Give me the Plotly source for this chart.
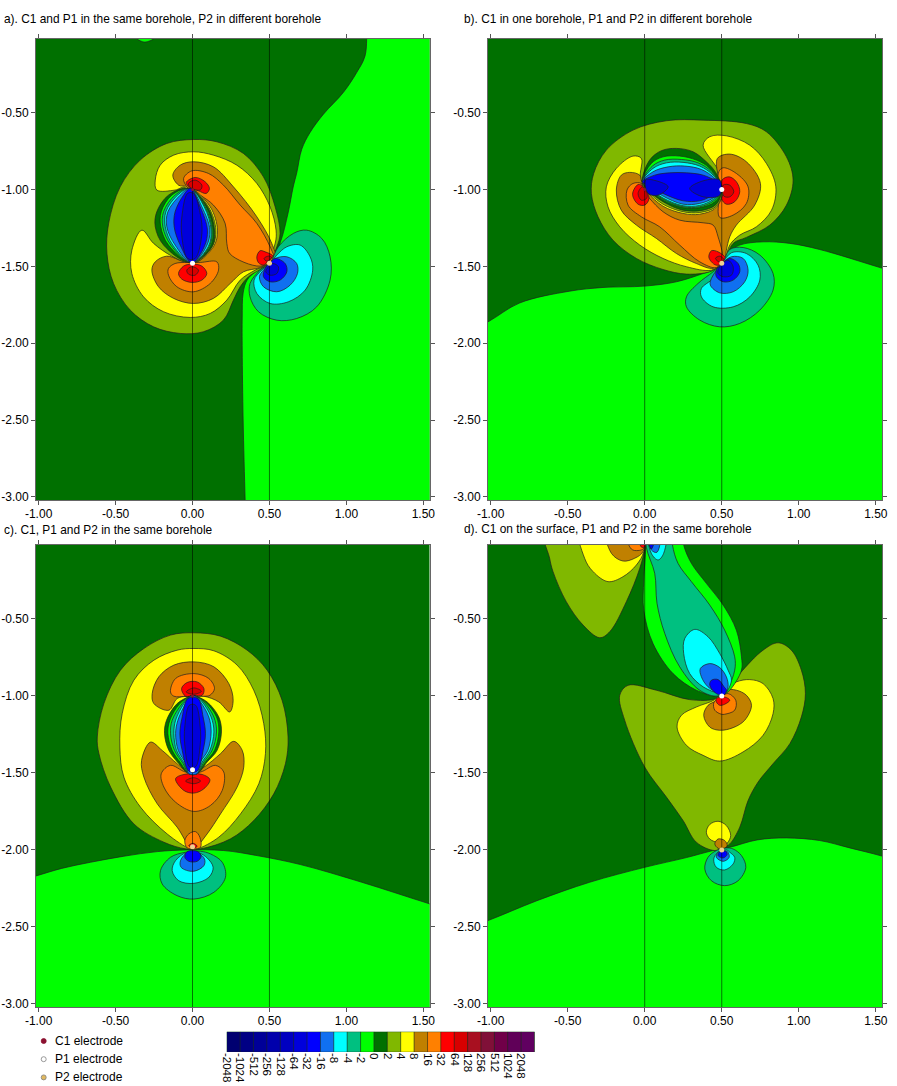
import plotly.graph_objects as go

# colour scale, each colour is the band that starts at the label below it
LEVELS = ['-2048', '-1024', '-512', '-256', '-128', '-64', '-32', '-16', '-8', '-4', '-2', '0',
          '2', '4', '8', '16', '32', '64', '128', '256', '512', '1024', '2048']
COLORS = ['#000070', '#000084', '#000098', '#0000ac', '#0000c0', '#0000dc', '#0000ff', '#1070f0',
          '#00ffff', '#00c080', '#00ff00', '#007000', '#80b800', '#ffff00', '#c08000', '#ff8000',
          '#ff0000', '#d80000', '#a81020', '#801038', '#700048', '#600058', '#600060']
BAND = dict(zip(LEVELS, COLORS))

XTICKS = [-1.0, -0.5, 0.0, 0.5, 1.0, 1.5]
XTICK_TEXT = ['-1.00', '-0.50', '0.00', '0.50', '1.00', '1.50']
YTICKS = [-0.5, -1.0, -1.5, -2.0, -2.5, -3.0]
YTICK_TEXT = ['-0.50', '-1.00', '-1.50', '-2.00', '-2.50', '-3.00']
BOREHOLES = [0.0, 0.5]
TITLES = ['a). C1 and P1 in the same borehole, P2 in different borehole',
          'b). C1 in one borehole, P1 and P2 in different borehole',
          'c). C1, P1 and P2 in the same borehole',
          'd). C1 on the surface, P1 and P2 in the same borehole']

# electrodes per panel
C1_X = [0.0, 0.0, 0.0, 0.0]
C1_Y = [-1.0, -1.0, -1.0, 0.006]
P1_X = [0.0, 0.5, 0.0, 0.5]
P1_Y = [-1.48, -1.0, -1.48, -1.0]
P2_X = [0.5, 0.5, 0.0, 0.5]
P2_Y = [-1.48, -1.48, -1.98, -2.0]

# contour outlines, panel a
A_GREEN_X = [1.14, 1.121, 1.067, .98, .851, .764, .71, .678, .654, .621, .569, .518, .42, .355, .329, .323, .323, .329, .342, .35, 1.9, 1.9, 1.2]
A_GREEN_Y = [0.1, -.13, -.238, -.368, -.509, -.628, -.737, -.888, -.984, -1.153, -1.348, -1.446, -1.524, -1.589, -1.673, -1.83, -2.044, -2.5, -3.02, -3.3, -3.4, 0.3, 0.3]
A_BLOB_X = [-.359, -.31, -.255]
A_BLOB_Y = [-.02, -.04, -.02]
A_OLIVE_X = [.5, .548, .569, .537, .461, .331, .158, .006, -.167, -.34, -.47, -.545, -.556, -.513, -.405, -.253, -.08, .071, .201, .266, .31, .364, .439]
A_OLIVE_Y = [-1.476, -1.372, -1.285, -1.112, -.917, -.765, -.689, -.674, -.7, -.808, -.982, -1.22, -1.416, -1.611, -1.784, -1.893, -1.936, -1.925, -1.849, -1.719, -1.632, -1.567, -1.52]
A_YELLOW_X = [.537, .543, .504, .418, .288, .136, .006, -.123, -.21, -.242, -.232, -.113, -.048, -.015, -.032, -.134, -.253, -.329, -.394, -.394, -.318, -.188, -.015, .115, .223, .31, .407, .472]
A_YELLOW_Y = [-1.35, -1.264, -1.112, -.96, -.841, -.776, -.754, -.776, -.841, -.938, -1.003, -1.003, -.986, -1.22, -1.47, -1.433, -1.35, -1.264, -1.394, -1.546, -1.698, -1.795, -1.832, -1.806, -1.719, -1.589, -1.524, -1.491]
A_BROWN_X = [.537, .515, .418, .266, .136, .006, -.08, -.128, -.091, -.032, -.015, -.019, -.167, -.242, -.264, -.221, -.123, .006, .136, .245, .331, .439]
A_BROWN_Y = [-1.448, -1.35, -1.177, -.982, -.852, -.819, -.841, -.906, -.971, -.986, -1.22, -1.47, -1.433, -1.47, -1.524, -1.632, -1.708, -1.741, -1.708, -1.611, -1.535, -1.507]
A_ORANGE1_X = [-.032, -.058, -.004, .104, .201, .31, .418, .504, .526, .439, .245, .223, .212, .136, .05]
A_ORANGE1_Y = [-.986, -.928, -.878, -.895, -.971, -1.101, -1.22, -1.372, -1.448, -1.498, -1.42, -1.351, -1.22, -1.101, -1.036]
A_ORANGE2_X = [-.156, -.113, -.032, .05, .158, .169, .115, .006, -.102, -.156]
A_ORANGE2_Y = [-1.513, -1.481, -1.474, -1.474, -1.47, -1.524, -1.611, -1.665, -1.632, -1.557]
A_RED1_X = [-.041, .017, .082, .11, .089, .039, -.019]
A_RED1_Y = [-.954, -.921, -.949, -.993, -1.025, -1.008, -.986]
A_DRED1_X = [-.026, .017, .061, .05, -.015]
A_DRED1_Y = [-.96, -.938, -.971, -1.003, -.986]
A_RED2_X = [-.091, -.058, -.004, .061, .093, .061, -.004, -.069]
A_RED2_Y = [-1.546, -1.498, -1.485, -1.498, -1.546, -1.589, -1.604, -1.583]
A_DRED2_X = [-.037, -.004, .039, .017, -.026]
A_DRED2_Y = [-1.524, -1.502, -1.524, -1.557, -1.55]
A_RED3_X = [.418, .439, .472, .522, .494, .461, .429]
A_RED3_Y = [-1.437, -1.398, -1.405, -1.433, -1.463, -1.491, -1.476]
A_DRED3_X = [.465, .494, .515, .483]
A_DRED3_Y = [-1.448, -1.433, -1.442, -1.466]
A_LENS_Y = [-.993, -1.036, -1.144, -1.242, -1.361, -1.476, -1.372, -1.264, -1.112]
A_LENS_YELLOW_X = [-.015, -.08, -.123, -.123, -.08, .006, .136, .162, .115]
A_LENS_OLIVE_X = [-.015, -.08, -.123, -.123, -.08, .006, .128, .152, .104]
A_LENS_DGREEN_X = [-.026, -.156, -.232, -.242, -.188, -.011, .126, .143, .097]
A_LENS_GREEN_X = [-.015, -.134, -.203, -.206, -.156, -.004, .115, .134, .089]
A_LENS_TEAL_X = [-.015, -.113, -.188, -.193, -.141, -.004, .108, .128, .082]
A_LENS_CYAN_X = [-.015, -.097, -.173, -.177, -.128, -.004, .102, .121, .076]
A_LENS_MID_X = [-.015, -.08, -.16, -.167, -.113, -.004, .089, .113, .061]
A_LENS_BLUE_X = [-.015, -.058, -.113, -.119, -.08, -.004, .076, .097, .05]
A_LENS_DARK_X = [-.032, -.069, -.069, -.032, .017, .061, .05, .006]
A_LENS_DARK_Y = [-1.025, -1.177, -1.307, -1.448, -1.448, -1.285, -1.155, -1.025]
A_TEAL_X = [.504, .558, .656, .742, .84, .894, .894, .807, .677, .548, .429, .374, .374, .439]
A_TEAL_Y = [-1.476, -1.372, -1.285, -1.264, -1.318, -1.437, -1.589, -1.763, -1.839, -1.85, -1.795, -1.698, -1.611, -1.524]
A_CYAN_X = [.504, .548, .613, .699, .764, .781, .732, .623, .504, .418, .4, .45]
A_CYAN_Y = [-1.476, -1.426, -1.372, -1.361, -1.437, -1.524, -1.654, -1.73, -1.741, -1.676, -1.589, -1.524]
A_MID_X = [.504, .537, .613, .677, .682, .634, .548, .461, .435, .461]
A_MID_Y = [-1.476, -1.448, -1.437, -1.481, -1.546, -1.622, -1.665, -1.632, -1.567, -1.524]
A_BLUE_X = [.504, .537, .602, .613, .569, .504, .461, .472]
A_BLUE_Y = [-1.476, -1.448, -1.481, -1.535, -1.589, -1.6, -1.567, -1.513]
A_DARK_X = [.522, .558, .548, .504, .476, .494]
A_DARK_Y = [-1.481, -1.502, -1.546, -1.557, -1.535, -1.502]

# panel b
B_GREEN_X = [-1.3, -1.019, -.812, -.487, -.271, 0, .206, .379, .465, .513, .552, .617, .768, .942, 1.136, 1.539, 1.9, 1.9, -1.3]
B_GREEN_Y = [-2.0, -1.862, -1.738, -1.661, -1.637, -1.628, -1.6, -1.546, -1.513, -1.47, -1.405, -1.361, -1.34, -1.35, -1.39, -1.511, -1.62, -3.4, -3.4]
B_OLIVE_X = [.513, .574, .66, .812, .92, .963, .92, .79, .66, .379, .141, -.076, -.249, -.331, -.346, -.303, -.206, -.054, .119, .271, .422, .476]
B_OLIVE_Y = [-1.47, -1.35, -1.311, -1.231, -1.101, -.938, -.787, -.624, -.57, -.548, -.552, -.613, -.743, -.895, -1.025, -1.177, -1.329, -1.448, -1.52, -1.55, -1.535, -1.502]
B_YELLOW_X = [-.017, -.022, -.076, -.184, -.249, -.238, -.162, -.032, .119, .271, .433, .513, .552, .617, .725, .823, .851, .79, .682, .53, .422, .379, .476, .498]
B_YELLOW_Y = [-.949, -.797, -.782, -.862, -.982, -1.112, -1.242, -1.361, -1.448, -1.502, -1.524, -1.47, -1.361, -1.296, -1.242, -1.134, -.982, -.83, -.711, -.65, -.656, -.711, -.873, -.96]
B_BROWN_X = [-.032, -.097, -.152, -.184, -.152, -.054, .076, .206, .335, .444, .513, .53, .552, .595, .714, .751, .66, .552, .472, .476, .498, -.011]
B_BROWN_Y = [-.906, -.888, -.906, -1.003, -1.134, -1.231, -1.318, -1.416, -1.481, -1.513, -1.47, -1.394, -1.307, -1.231, -1.101, -.96, -.819, -.769, -.797, -.906, -.971, -.96]
B_ORANGE1_X = [-.115, -.076, -.022, -.011, .032, .119, .227, .379, .444, .476, .504, .465, .357, .227, .097, -.022, -.108]
B_ORANGE1_Y = [-1.003, -.96, -.96, -1.003, -1.058, -1.144, -1.199, -1.216, -1.231, -1.307, -1.448, -1.507, -1.47, -1.361, -1.242, -1.177, -1.101]
B_ORANGE2_X = [.481, .509, .595, .671, .66, .574, .487, .481]
B_ORANGE2_Y = [-.884, -.858, -.895, -.982, -1.09, -1.166, -1.181, -1.047]
B_RED1_X = [-.076, -.043, -.006, .028, 0, -.043, -.076]
B_RED1_Y = [-1.014, -.967, -.982, -1.058, -1.101, -1.095, -1.047]
B_DRED1_X = [-.043, -.015, .015, .011, -.022]
B_DRED1_Y = [-1.025, -.982, -1.025, -1.058, -1.069]
B_RED2_X = [.502, .548, .595, .617, .584, .53, .498]
B_RED2_Y = [-.938, -.917, -.949, -1.014, -1.079, -1.095, -1.058]
B_DRED2_X = [.509, .552, .578, .552, .513]
B_DRED2_Y = [-.971, -.971, -1.014, -1.047, -1.042]
B_RED3_X = [.416, .433, .476, .526, .509, .465, .433]
B_RED3_Y = [-1.437, -1.398, -1.405, -1.448, -1.481, -1.492, -1.47]
B_DRED3_X = [.459, .487, .513, .491]
B_DRED3_Y = [-1.448, -1.433, -1.455, -1.474]
B_LENS_YELLOW_X = [-.015, .249, .5, .465, .357, .249, .119, .022]
B_LENS_YELLOW_Y = [-.949, -.873, -.999, -1.116, -1.16, -1.155, -1.108, -1.021]
B_LENS_OLIVE_X = [-.015, .249, .5, .465, .357, .249, .119, .022]
B_LENS_OLIVE_Y = [-.949, -.873, -.999, -1.108, -1.149, -1.144, -1.095, -1.012]
B_LENS_DGREEN_X = [-.015, .032, .108, .206, .314, .4, .465, .5, .465, .379, .249, .119, .022]
B_LENS_DGREEN_Y = [-.949, -.808, -.747, -.732, -.754, -.819, -.895, -.999, -1.095, -1.134, -1.134, -1.079, -1.003]
B_LENS_GREEN_X = [-.015, .043, .119, .227, .335, .422, .5, .455, .357, .249, .119, .022]
B_LENS_GREEN_Y = [-.949, -.83, -.787, -.782, -.808, -.862, -.999, -1.079, -1.118, -1.118, -1.069, -.995]
B_LENS_TEAL_X = [-.015, .05, .13, .238, .346, .433, .5, .448, .357, .249, .119, .022]
B_LENS_TEAL_Y = [-.949, -.847, -.808, -.804, -.826, -.884, -.999, -1.073, -1.112, -1.112, -1.062, -.988]
B_LENS_CYAN_X = [-.015, .054, .141, .249, .357, .444, .5, .444, .357, .249, .119, .022]
B_LENS_CYAN_Y = [-.949, -.862, -.826, -.823, -.847, -.906, -.999, -1.064, -1.103, -1.105, -1.055, -.984]
B_LENS_MID_X = [-.015, .054, .152, .26, .368, .455, .5, .439, .357, .249, .119, .022]
B_LENS_MID_Y = [-.949, -.884, -.852, -.847, -.869, -.928, -.999, -1.058, -1.09, -1.095, -1.042, -.977]
B_LENS_BLUE_X = [-.015, .065, .162, .271, .379, .465, .5, .433, .357, .249, .119, .022]
B_LENS_BLUE_Y = [-.949, -.906, -.891, -.891, -.906, -.949, -.999, -1.042, -1.073, -1.073, -1.025, -.971]
B_DARK1_X = [.006, .076, .152, .087, .022]
B_DARK1_Y = [-.938, -.943, -.982, -1.036, -1.025]
B_DARK2_X = [.487, .379, .292, .379, .487]
B_DARK2_Y = [-.938, -.943, -.993, -1.047, -1.036]
B_TEAL_X = [.504, .552, .639, .747, .833, .833, .747, .617, .487, .357, .271, .271, .346, .444]
B_TEAL_Y = [-1.481, -1.39, -1.377, -1.426, -1.546, -1.654, -1.784, -1.871, -1.893, -1.849, -1.763, -1.698, -1.611, -1.535]
B_CYAN_X = [.504, .563, .66, .736, .747, .682, .574, .444, .368, .368, .444]
B_CYAN_Y = [-1.481, -1.411, -1.416, -1.492, -1.589, -1.698, -1.763, -1.763, -1.698, -1.643, -1.578]
B_MID_X = [.504, .563, .639, .671, .649, .574, .487, .426, .433]
B_MID_Y = [-1.481, -1.437, -1.448, -1.524, -1.6, -1.665, -1.672, -1.622, -1.578]
B_BLUE_X = [.504, .552, .606, .617, .574, .509, .465, .465]
B_BLUE_Y = [-1.481, -1.448, -1.481, -1.535, -1.589, -1.6, -1.567, -1.524]
B_DARK3_X = [.504, .541, .574, .563, .509, .476, .476]
B_DARK3_Y = [-1.481, -1.459, -1.502, -1.557, -1.567, -1.546, -1.524]

# panel c
C_GREEN_X = [-1.3, -1.02, -.85, -.662, -.446, -.229, -.035, .203, .42, .701, 1.1, 1.54, 1.9, 1.9, -1.3]
C_GREEN_Y = [-2.25, -2.17, -2.12, -2.08, -2.041, -2.011, -2.0, -2.004, -2.037, -2.095, -2.21, -2.35, -2.46, -3.4, -3.4]
C_OLIVE_X = [-.045, -.186, -.381, -.532, -.608, -.619, -.576, -.468, -.316, -.143, .009, .182, .355, .485, .582, .621, .604, .528, .398, .247, .052]
C_OLIVE_Y = [-1.993, -1.95, -1.831, -1.592, -1.375, -1.267, -1.05, -.833, -.692, -.605, -.59, -.612, -.703, -.833, -1.028, -1.267, -1.44, -1.636, -1.809, -1.928, -1.993]
C_YELLOW_X = [-.013, -.165, -.338, -.446, -.472, -.457, -.381, -.251, -.1, .009, .139, .29, .398, .463, .474, .431, .312, .171, .03]
C_YELLOW_Y = [-1.993, -1.896, -1.722, -1.527, -1.332, -1.115, -.898, -.768, -.703, -.692, -.707, -.8, -.963, -1.18, -1.375, -1.57, -1.766, -1.917, -1.993]
C_BROWN1_X = [-.154, -.251, -.262, -.219, -.121, .009, .139, .236, .264, .242, .171, .074, -.035, -.1]
C_BROWN1_Y = [-1.093, -1.05, -.985, -.876, -.8, -.779, -.811, -.92, -1.028, -1.104, -1.039, -1.002, -1.002, -1.017]
C_BROWN2_X = [-.013, -.1, -.229, -.316, -.331, -.273, -.197, -.1, -.013, .074, .182, .268, .323, .333, .29, .182, .095, .019]
C_BROWN2_Y = [-1.983, -1.852, -1.701, -1.527, -1.419, -1.3, -1.354, -1.44, -1.501, -1.462, -1.375, -1.295, -1.353, -1.462, -1.592, -1.766, -1.896, -1.983]
C_ORANGE1_X = [-.143, -.11, .009, .106, .143, .113, .074, -.035, -.121]
C_ORANGE1_Y = [-.974, -.887, -.855, -.887, -.952, -.996, -1.002, -1.002, -1.002]
C_ORANGE2_X = [-.203, -.143, -.045, .052, .149, .203, .193, .117, .009, -.11, -.186]
C_ORANGE2_Y = [-1.505, -1.451, -1.494, -1.494, -1.451, -1.494, -1.614, -1.711, -1.75, -1.69, -1.592]
C_ORANGE3_X = [-.05, -.024, .019, .048, .052, .009, -.035]
C_ORANGE3_Y = [-1.939, -1.896, -1.881, -1.918, -1.983, -1.993, -1.987]
C_RED1_X = [-.071, -.035, .03, .074, .063, .009, -.045]
C_RED1_Y = [-.952, -.913, -.909, -.952, -.996, -.996, -1.002]
C_DRED1_X = [-.041, .009, .058, .009]
C_DRED1_Y = [-.974, -.948, -.97, -.989]
C_RED2_X = [-.11, -.056, .063, .113, .074, .009, -.056]
C_RED2_Y = [-1.538, -1.51, -1.51, -1.544, -1.603, -1.631, -1.614]
C_DRED2_X = [-.045, .009, .052, .009]
C_DRED2_Y = [-1.553, -1.531, -1.553, -1.57]
C_RED3_X = [-.024, .004, .03, .009]
C_RED3_Y = [-1.972, -1.957, -1.976, -1.989]
C_LENS_Y = [-1.002, -1.05, -1.158, -1.245, -1.353, -1.44, -1.505, -1.505, -1.429, -1.353, -1.234, -1.137, -1.039, -1.002]
C_LENS_DGREEN_X = [-.013, -.1, -.169, -.182, -.154, -.089, -.024, .03, .095, .16, .188, .171, .095, .019]
C_LENS_GREEN_X = [-.013, -.082, -.147, -.16, -.132, -.074, -.024, .03, .084, .143, .171, .156, .084, .019]
C_LENS_TEAL_X = [-.013, -.067, -.132, -.143, -.117, -.061, -.024, .03, .074, .128, .156, .139, .074, .019]
C_LENS_CYAN_X = [-.013, -.056, -.11, -.121, -.104, -.052, -.024, .03, .063, .113, .139, .121, .063, .019]
C_LENS_MID_X = [-.013, -.045, -.095, -.11, -.093, -.043, -.024, .03, .052, .1, .121, .106, .052, .019]
C_LENS_BLUE_X = [-.03, -.067, -.082, -.067, -.024, .03, .069, .084, .069, .035]
C_LENS_BLUE_Y = [-1.017, -1.137, -1.245, -1.353, -1.488, -1.488, -1.353, -1.245, -1.137, -1.017]
C_LENS_DARK_X = [-.02, -.05, -.05, -.02, .02, .05, .05, .02]
C_LENS_DARK_Y = [-1.06, -1.2, -1.32, -1.46, -1.46, -1.32, -1.2, -1.06]
C_TEAL_X = [-.045, -.143, -.208, -.197, -.1, .009, .139, .214, .193, .117, .052]
C_TEAL_Y = [-2.015, -2.048, -2.134, -2.221, -2.297, -2.319, -2.275, -2.178, -2.08, -2.026, -2.009]
C_CYAN_X = [-.035, -.11, -.132, -.089, .009, .106, .134, .095, .041]
C_CYAN_Y = [-2.015, -2.069, -2.134, -2.2, -2.217, -2.178, -2.113, -2.052, -2.019]
C_MID_X = [-.03, -.078, -.074, .004, .074, .078, .035]
C_MID_Y = [-2.015, -2.069, -2.113, -2.139, -2.102, -2.059, -2.019]
C_BLUE_X = [-.035, -.05, -.024, .03, .056, .035]
C_BLUE_Y = [-2.011, -2.048, -2.074, -2.074, -2.043, -2.011]

# panel d
D_GREEN_X = [-1.3, -1.02, -.7, -.357, 0, .27, .444, .552, .73, .92, 1.136, 1.331, 1.54, 1.9, 1.9, -1.3]
D_GREEN_Y = [-2.56, -2.46, -2.33, -2.21, -2.113, -2.05, -2.004, -1.983, -1.935, -1.922, -1.939, -1.987, -2.04, -2.15, -3.4, -3.4]
D_OLIVE_X = [.465, .292, .076, -.108, -.162, -.13, 0, .141, .249, .335, .455, .513, .552, .617, .671, .736, .833, .942, 1.017, 1.043, 1.017, .952, .866, .768, .617, .53]
D_OLIVE_Y = [-1.017, -1.024, -.963, -.931, -.996, -1.158, -1.462, -1.657, -1.809, -1.95, -2.004, -1.982, -1.961, -1.852, -1.679, -1.559, -1.44, -1.31, -1.136, -.985, -.833, -.703, -.655, -.703, -.855, -.963]
D_YELLOW1_X = [.52, .595, .682, .768, .833, .833, .768, .638, .487, .379, .271, .21, .238, .335, .455]
D_YELLOW1_Y = [-.959, -.909, -.894, -.92, -1.017, -1.115, -1.256, -1.364, -1.423, -1.386, -1.321, -1.202, -1.126, -1.072, -1.024]
D_BROWN1_X = [.519, .595, .66, .693, .649, .574, .487, .422, .383, .411, .476]
D_BROWN1_Y = [-.963, -.963, -.996, -1.061, -1.158, -1.206, -1.223, -1.202, -1.126, -1.061, -1.024]
D_ORANGE1_X = [.541, .591, .584, .519, .498, .455, .448, .476]
D_ORANGE1_Y = [-.985, -1.028, -1.093, -1.119, -1.119, -1.093, -1.046, -1.017]
D_RED1_X = [.465, .519, .552, .519, .487, .465]
D_RED1_Y = [-1.017, -1.007, -1.028, -1.054, -1.061, -1.039]
D_YELLOW2_X = [.476, .422, .4, .422, .476, .53, .558, .535, .504]
D_YELLOW2_Y = [-1.957, -1.929, -1.885, -1.835, -1.814, -1.842, -1.907, -1.957, -1.983]
D_BROWN2_X = [.455, .476, .519, .535, .509, .476]
D_BROWN2_Y = [-1.961, -1.929, -1.939, -1.972, -1.994, -1.989]
D_TEAL2_X = [.465, .411, .39, .433, .519, .606, .656, .628, .574, .53]
D_TEAL2_Y = [-2.004, -2.048, -2.124, -2.2, -2.232, -2.2, -2.113, -2.037, -1.994, -1.987]
D_CYAN2_X = [.476, .448, .465, .519, .574, .584, .552, .53]
D_CYAN2_Y = [-2.015, -2.059, -2.113, -2.13, -2.091, -2.048, -2.015, -2.0]
D_MID2_X = [.476, .465, .509, .548, .535]
D_MID2_Y = [-2.015, -2.048, -2.074, -2.048, -2.009]
D_BLUE2_X = [.483, .476, .509, .535, .526]
D_BLUE2_Y = [-2.015, -2.037, -2.052, -2.03, -2.009]
D_BAND_X = [.006, -.006, -.006, .054, .184, .335, .465, .504, .552, .628, .628, .595, .509, .4, .303, .253, .24, .0]
D_BAND_Y = [-.03, -.247, -.443, -.66, -.855, -.963, -1.002, -.996, -.963, -.833, -.746, -.573, -.41, -.269, -.139, -.02, .1, .1]
D_TEAL1_X = [.011, .065, .08, .13, .227, .357, .476, .541, .584, .584, .519, .422, .303, .216, .18, .17, .01]
D_TEAL1_Y = [-.035, -.204, -.399, -.594, -.811, -.963, -1.0, -.942, -.833, -.746, -.573, -.41, -.258, -.139, -.02, .1, .1]
D_CYAN1_X = [.487, .379, .292, .253, .26, .325, .411, .487, .541, .563, .52]
D_CYAN1_Y = [-.985, -.941, -.855, -.725, -.627, -.568, -.616, -.725, -.833, -.898, -.985]
D_MID1_X = [.487, .411, .368, .361, .422, .487, .53, .541, .52]
D_MID1_Y = [-.985, -.941, -.876, -.822, -.79, -.816, -.876, -.941, -.985]
D_BLUE1_X = [.422, .433, .476, .515, .53, .513, .465]
D_BLUE1_Y = [-.93, -.898, -.894, -.941, -.963, -.996, -.985]
D_TOP_OLIVE_X = [-.65, -.617, -.595, -.509, -.4, -.292, -.227, -.119, -.032, 0, 0]
D_TOP_OLIVE_Y = [.1, -.106, -.193, -.388, -.54, -.622, -.583, -.388, -.171, -.04, .1]
D_TOP_YELLOW_X = [-.42, -.39, -.335, -.238, -.141, -.054, -.006, 0]
D_TOP_YELLOW_Y = [.1, -.106, -.193, -.258, -.226, -.15, -.063, .1]
D_TOP_BROWN_X = [-.25, -.216, -.141, -.065, -.011, 0]
D_TOP_BROWN_Y = [.1, -.074, -.124, -.106, -.063, .1]
D_TOP_ORANGE_X = [-.125, -.087, -.043, -.006, 0]
D_TOP_ORANGE_Y = [.1, -.046, -.056, -.041, .1]
D_TOP_RED_X = [-.05, -.02, 0, 0]
D_TOP_RED_Y = [.1, -.035, -.03, .1]
D_TOP_CYAN_X = [.025, .043, .087, .123, .135]
D_TOP_CYAN_Y = [.1, -.074, -.117, -.074, .1]
D_TOP_MID_X = [.02, .043, .08, .098]
D_TOP_MID_Y = [.1, -.052, -.067, .1]
D_TOP_BLUE_X = [.012, .043, .075]
D_TOP_BLUE_Y = [.1, -.046, .1]

# paint order is outer to inner, like a filled contour plot
PANEL_A = [('-2', A_GREEN_X, A_GREEN_Y), ('-2', A_BLOB_X, A_BLOB_Y), ('2', A_OLIVE_X, A_OLIVE_Y),
           ('4', A_YELLOW_X, A_YELLOW_Y), ('8', A_BROWN_X, A_BROWN_Y), ('16', A_ORANGE1_X, A_ORANGE1_Y),
           ('16', A_ORANGE2_X, A_ORANGE2_Y), ('32', A_RED1_X, A_RED1_Y), ('64', A_DRED1_X, A_DRED1_Y),
           ('32', A_RED2_X, A_RED2_Y), ('64', A_DRED2_X, A_DRED2_Y), ('32', A_RED3_X, A_RED3_Y),
           ('64', A_DRED3_X, A_DRED3_Y), ('4', A_LENS_YELLOW_X, A_LENS_Y), ('2', A_LENS_OLIVE_X, A_LENS_Y),
           ('0', A_LENS_DGREEN_X, A_LENS_Y), ('-2', A_LENS_GREEN_X, A_LENS_Y), ('-4', A_LENS_TEAL_X, A_LENS_Y),
           ('-8', A_LENS_CYAN_X, A_LENS_Y), ('-16', A_LENS_MID_X, A_LENS_Y), ('-32', A_LENS_BLUE_X, A_LENS_Y),
           ('-64', A_LENS_DARK_X, A_LENS_DARK_Y), ('-4', A_TEAL_X, A_TEAL_Y), ('-8', A_CYAN_X, A_CYAN_Y),
           ('-16', A_MID_X, A_MID_Y), ('-32', A_BLUE_X, A_BLUE_Y), ('-64', A_DARK_X, A_DARK_Y)]
PANEL_B = [('-2', B_GREEN_X, B_GREEN_Y), ('2', B_OLIVE_X, B_OLIVE_Y), ('4', B_YELLOW_X, B_YELLOW_Y),
           ('8', B_BROWN_X, B_BROWN_Y), ('16', B_ORANGE1_X, B_ORANGE1_Y), ('16', B_ORANGE2_X, B_ORANGE2_Y),
           ('32', B_RED1_X, B_RED1_Y), ('64', B_DRED1_X, B_DRED1_Y), ('32', B_RED2_X, B_RED2_Y),
           ('64', B_DRED2_X, B_DRED2_Y), ('32', B_RED3_X, B_RED3_Y), ('64', B_DRED3_X, B_DRED3_Y),
           ('4', B_LENS_YELLOW_X, B_LENS_YELLOW_Y), ('2', B_LENS_OLIVE_X, B_LENS_OLIVE_Y),
           ('0', B_LENS_DGREEN_X, B_LENS_DGREEN_Y), ('-2', B_LENS_GREEN_X, B_LENS_GREEN_Y),
           ('-4', B_LENS_TEAL_X, B_LENS_TEAL_Y), ('-8', B_LENS_CYAN_X, B_LENS_CYAN_Y),
           ('-16', B_LENS_MID_X, B_LENS_MID_Y), ('-32', B_LENS_BLUE_X, B_LENS_BLUE_Y),
           ('-64', B_DARK1_X, B_DARK1_Y), ('-64', B_DARK2_X, B_DARK2_Y), ('-4', B_TEAL_X, B_TEAL_Y),
           ('-8', B_CYAN_X, B_CYAN_Y), ('-16', B_MID_X, B_MID_Y), ('-32', B_BLUE_X, B_BLUE_Y),
           ('-64', B_DARK3_X, B_DARK3_Y)]
PANEL_C = [('-2', C_GREEN_X, C_GREEN_Y), ('2', C_OLIVE_X, C_OLIVE_Y), ('4', C_YELLOW_X, C_YELLOW_Y),
           ('8', C_BROWN1_X, C_BROWN1_Y), ('8', C_BROWN2_X, C_BROWN2_Y), ('16', C_ORANGE1_X, C_ORANGE1_Y),
           ('16', C_ORANGE2_X, C_ORANGE2_Y), ('16', C_ORANGE3_X, C_ORANGE3_Y), ('32', C_RED1_X, C_RED1_Y),
           ('64', C_DRED1_X, C_DRED1_Y), ('32', C_RED2_X, C_RED2_Y), ('64', C_DRED2_X, C_DRED2_Y),
           ('32', C_RED3_X, C_RED3_Y), ('0', C_LENS_DGREEN_X, C_LENS_Y), ('-2', C_LENS_GREEN_X, C_LENS_Y),
           ('-4', C_LENS_TEAL_X, C_LENS_Y), ('-8', C_LENS_CYAN_X, C_LENS_Y), ('-16', C_LENS_MID_X, C_LENS_Y),
           ('-32', C_LENS_BLUE_X, C_LENS_BLUE_Y), ('-64', C_LENS_DARK_X, C_LENS_DARK_Y),
           ('-4', C_TEAL_X, C_TEAL_Y), ('-8', C_CYAN_X, C_CYAN_Y), ('-16', C_MID_X, C_MID_Y),
           ('-32', C_BLUE_X, C_BLUE_Y)]
PANEL_D = [('-2', D_GREEN_X, D_GREEN_Y), ('2', D_OLIVE_X, D_OLIVE_Y), ('4', D_YELLOW1_X, D_YELLOW1_Y),
           ('8', D_BROWN1_X, D_BROWN1_Y), ('16', D_ORANGE1_X, D_ORANGE1_Y), ('32', D_RED1_X, D_RED1_Y),
           ('4', D_YELLOW2_X, D_YELLOW2_Y), ('8', D_BROWN2_X, D_BROWN2_Y), ('-4', D_TEAL2_X, D_TEAL2_Y),
           ('-8', D_CYAN2_X, D_CYAN2_Y), ('-16', D_MID2_X, D_MID2_Y), ('-32', D_BLUE2_X, D_BLUE2_Y),
           ('-2', D_BAND_X, D_BAND_Y), ('-4', D_TEAL1_X, D_TEAL1_Y), ('-8', D_CYAN1_X, D_CYAN1_Y),
           ('-16', D_MID1_X, D_MID1_Y), ('-32', D_BLUE1_X, D_BLUE1_Y), ('2', D_TOP_OLIVE_X, D_TOP_OLIVE_Y),
           ('4', D_TOP_YELLOW_X, D_TOP_YELLOW_Y), ('8', D_TOP_BROWN_X, D_TOP_BROWN_Y),
           ('16', D_TOP_ORANGE_X, D_TOP_ORANGE_Y), ('32', D_TOP_RED_X, D_TOP_RED_Y),
           ('-8', D_TOP_CYAN_X, D_TOP_CYAN_Y), ('-16', D_TOP_MID_X, D_TOP_MID_Y),
           ('-32', D_TOP_BLUE_X, D_TOP_BLUE_Y)]
PANELS = [PANEL_A, PANEL_B, PANEL_C, PANEL_D]

W, H = 897, 1086
FONT = 'Liberation Sans'
LINE = '#202020'

# pixel boxes of the four plots: left, right, top, bottom
BOXES = [(36, 429.5, 39, 500), (488, 882, 39, 500), (36, 429.5, 545, 1007), (488, 882, 545, 1007)]
TITLE_POS = [(2, 19), (461.5, 19), (2, 530), (461.5, 529)]

fig = go.Figure()
layout = {}

for i, panel in enumerate(PANELS):
    suffix = '' if i == 0 else str(i + 1)
    axis_x, axis_y = 'x' + suffix, 'y' + suffix
    for band, xs, ys in panel:
        fig.add_trace(go.Scatter(
            x=list(xs) + [xs[0]], y=list(ys) + [ys[0]],
            xaxis=axis_x, yaxis=axis_y,
            mode='lines', fill='toself', fillcolor=BAND[band],
            line=dict(color=LINE, width=0.7, shape='spline', smoothing=1.0),
            hoverinfo='skip', showlegend=False))
    for bx in BOREHOLES:
        fig.add_trace(go.Scatter(
            x=[bx, bx], y=[-3.02, -0.02], xaxis=axis_x, yaxis=axis_y, mode='lines',
            line=dict(color='rgba(0,0,0,0.6)', width=0.9), hoverinfo='skip', showlegend=False))
    # electrodes
    fig.add_trace(go.Scatter(
        x=[C1_X[i]], y=[C1_Y[i]], xaxis=axis_x, yaxis=axis_y, mode='markers', cliponaxis=False,
        marker=dict(size=6 if i == 3 else 3, color='#8b1030'), hoverinfo='skip', showlegend=False))
    fig.add_trace(go.Scatter(
        x=[P1_X[i]], y=[P1_Y[i]], xaxis=axis_x, yaxis=axis_y, mode='markers',
        marker=dict(size=5, color='#ffffff'), hoverinfo='skip', showlegend=False))
    fig.add_trace(go.Scatter(
        x=[P2_X[i]], y=[P2_Y[i]], xaxis=axis_x, yaxis=axis_y, mode='markers',
        marker=dict(size=5, color='#f0d090'), hoverinfo='skip', showlegend=False))

    left, right, top, bottom = BOXES[i]
    common = dict(showgrid=False, zeroline=False, ticks='outside', ticklen=4, tickcolor='#555555',
                  showline=True, linecolor='#666666', linewidth=1, mirror='ticks', automargin=False,
                  tickfont=dict(family=FONT, size=12, color='#000000'))
    layout['xaxis' + suffix] = dict(domain=[left / W, right / W], range=[-1.017, 1.54], anchor=axis_y,
                                    tickvals=XTICKS, ticktext=XTICK_TEXT, ticklabelstandoff=-1, **common)
    layout['yaxis' + suffix] = dict(domain=[1 - bottom / H, 1 - top / H], range=[-3.02, -0.02], anchor=axis_x,
                                    tickvals=YTICKS, ticktext=YTICK_TEXT, **common)

# colour bar drawn as bars on its own axis
fig.add_trace(go.Bar(
    x=[k + 0.5 for k in range(len(LEVELS))], y=[1] * len(LEVELS), width=1,
    marker=dict(color=COLORS, line=dict(color='#202020', width=0.4)),
    xaxis='x5', yaxis='y5', hoverinfo='skip', showlegend=False))
layout['xaxis5'] = dict(domain=[226.8 / W, 534.6 / W], range=[0, len(LEVELS)], anchor='y5',
                        tickvals=list(range(len(LEVELS))), ticktext=LEVELS, tickangle=90,
                        ticks='', showgrid=False, zeroline=False, showline=False, automargin=False,
                        tickfont=dict(family=FONT, size=11.5, color='#000000'))
layout['yaxis5'] = dict(domain=[1 - 1052 / H, 1 - 1031.8 / H], range=[0, 1], anchor='x5', visible=False,
                        automargin=False)

annotations = []
for k, text in enumerate(TITLES):
    annotations.append(dict(text=text, x=TITLE_POS[k][0] / W, y=1 - TITLE_POS[k][1] / H, xref='paper', yref='paper',
                            xanchor='left', yanchor='middle', showarrow=False,
                            font=dict(family=FONT, size=11.9, color='#000000')))

# electrode legend
LEGEND_TEXT = ['C1 electrode', 'P1 electrode', 'P2 electrode']
LEGEND_COLOR = ['#8b1030', '#ffffff', '#e0b860']
LEGEND_EDGE = ['#8b1030', '#808080', '#808080']
shapes = []
for k, (text, fill, edge) in enumerate(zip(LEGEND_TEXT, LEGEND_COLOR, LEGEND_EDGE)):
    yy = 1041 + 18.2 * k
    shapes.append(dict(type='circle', xref='paper', yref='paper', xsizemode='pixel', ysizemode='pixel',
                       xanchor=43.7 / W, yanchor=1 - yy / H, x0=-2.5, x1=2.5, y0=-2.5, y1=2.5,
                       fillcolor=fill, line=dict(color=edge, width=0.8)))
    annotations.append(dict(text=text, x=52.5 / W, y=1 - yy / H, xref='paper', yref='paper', xanchor='left',
                            yanchor='middle', showarrow=False, font=dict(family=FONT, size=12, color='#000000')))

fig.update_layout(width=W, height=H, margin=dict(l=0, r=0, t=0, b=0), showlegend=False,
                  plot_bgcolor='#007000', paper_bgcolor='#ffffff',
                  annotations=annotations, shapes=shapes, **layout)

# the page has a default body margin, drop it so the figure sits at the window corner
fig.write_html("out.html", config={'displayModeBar': False},
               post_script="document.body.style.margin = '0';")
